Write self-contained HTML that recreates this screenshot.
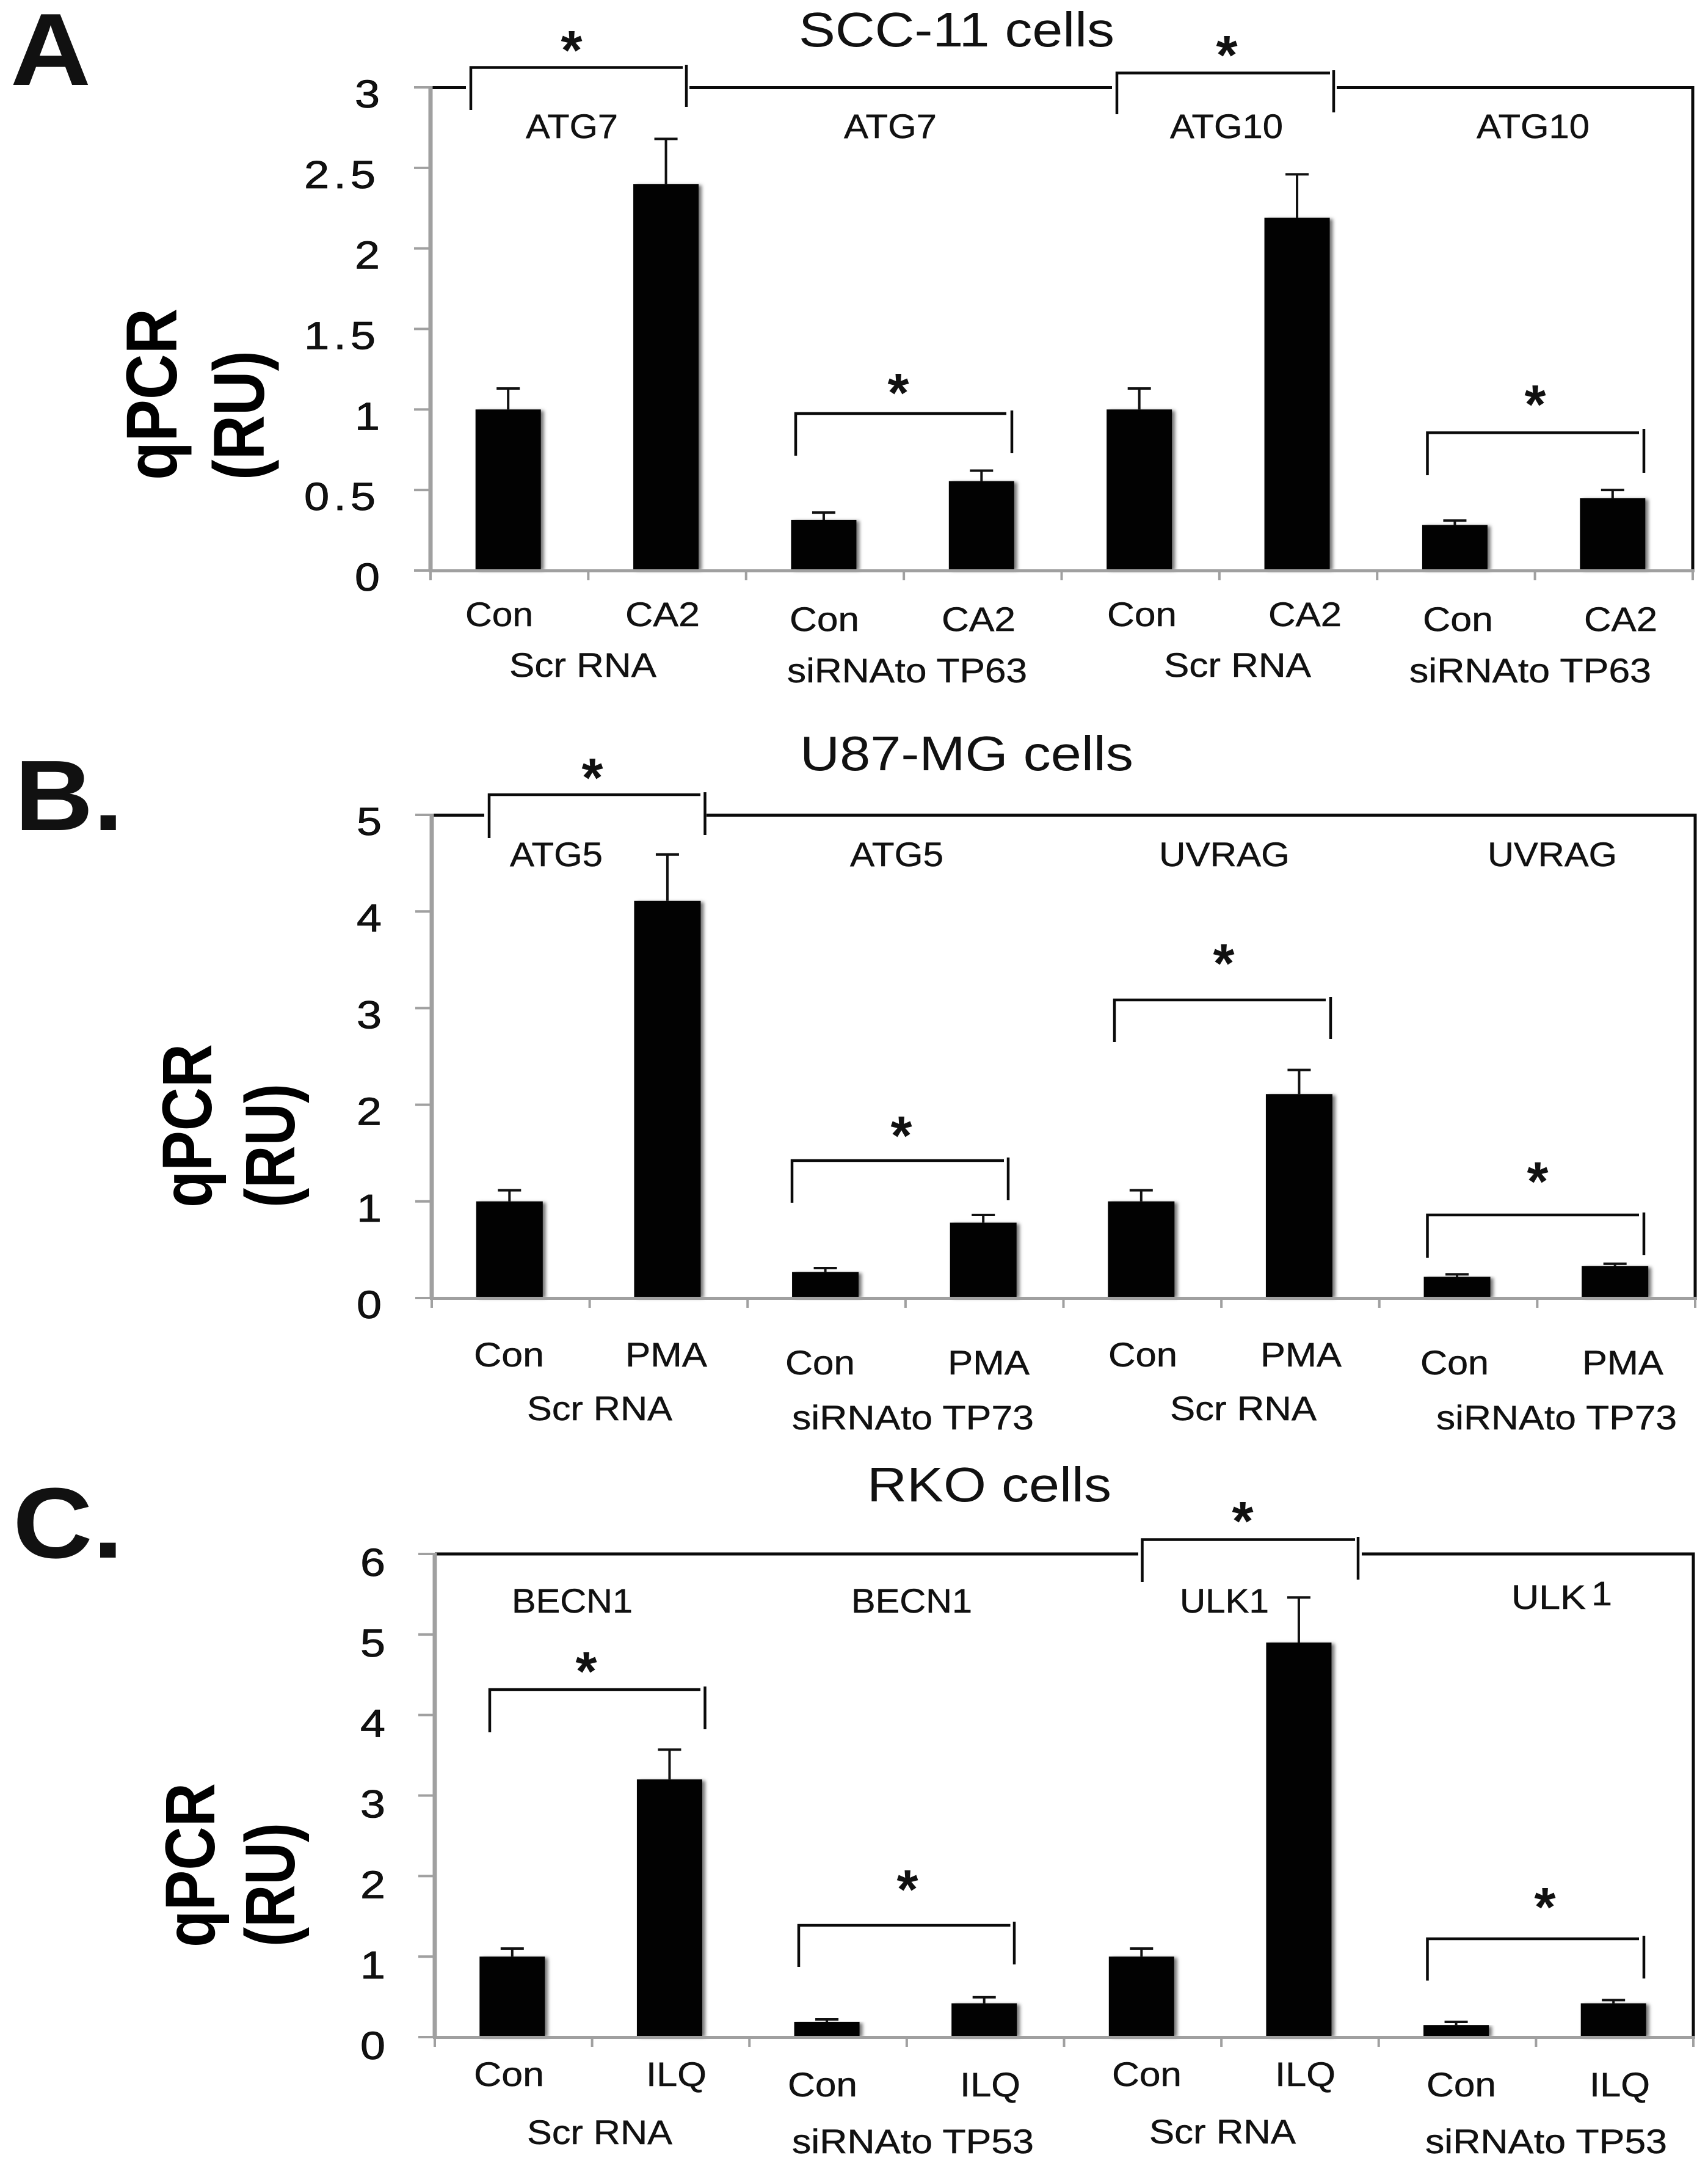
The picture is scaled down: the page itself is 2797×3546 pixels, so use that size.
<!DOCTYPE html>
<html lang="en">
<head>
<meta charset="utf-8">
<title>qPCR autophagy gene expression panels</title>
<style>
html,body{margin:0;padding:0;background:#fff;}
svg{display:block;}
text{font-family:"Liberation Sans",Arial,sans-serif;fill:#111;}
.letter{font-weight:700;fill:#111;}
.title{font-size:80px;}
.gene,.xl{font-size:56px;stroke:#111;stroke-width:.5;}
.axt{font-weight:700;font-size:118px;fill:#000;}
.star{font-weight:700;font-size:90px;text-anchor:middle;}
.br{fill:none;stroke:#0a0a0a;stroke-width:4.5;}
.frame{fill:none;stroke:#0a0a0a;stroke-width:5;}
</style>
</head>
<body>
<svg id="figure" xmlns="http://www.w3.org/2000/svg" width="2797" height="3546" viewBox="0 0 2797 3546">
<defs><filter id="soft" x="-30%" y="-10%" width="160%" height="120%"><feGaussianBlur stdDeviation="3"/></filter></defs>
<rect width="2797" height="3546" fill="#fff"/>

<!-- Panel A -->
<g>
<text class="letter" x="17" y="139" font-size="168" textLength="132" lengthAdjust="spacingAndGlyphs">A</text>
<text class="title" x="1308" y="76" textLength="517" lengthAdjust="spacingAndGlyphs">SCC-11 cells</text>
<path class="frame" d="M705 143.5H763M1129 143.5H1821M2189 143.5H2772V934"/>
<text class="axt" transform="translate(289,786) rotate(-90)" textLength="281" lengthAdjust="spacingAndGlyphs">qPCR</text>
<text class="axt" transform="translate(432,786) rotate(-90)" textLength="212" lengthAdjust="spacingAndGlyphs">(RU)</text>
<path class="br" d="M771 180V110.500H1118M1124 106V175"/>
<text class="star" x="936" y="113">*</text>
<path class="br" d="M1829 187V119.500H2178M2184 115V184"/>
<text class="star" x="2009" y="121">*</text>
<path class="br" d="M1303 746V677H1648M1657 672V742"/>
<text class="star" x="1471" y="674">*</text>
<path class="br" d="M2337.500 778V708.500H2684M2692 702V774"/>
<text class="star" x="2514" y="693">*</text>
<text class="gene" x="861" y="226" textLength="151" lengthAdjust="spacingAndGlyphs">ATG7</text>
<text class="gene" x="1382" y="226" textLength="152" lengthAdjust="spacingAndGlyphs">ATG7</text>
<text class="gene" x="1916" y="226" textLength="185" lengthAdjust="spacingAndGlyphs">ATG10</text>
<text class="gene" x="2418" y="226" textLength="185" lengthAdjust="spacingAndGlyphs">ATG10</text>
<text class="xl" x="762" y="1025" textLength="111" lengthAdjust="spacingAndGlyphs">Con</text>
<text class="xl" x="1024" y="1025" textLength="122" lengthAdjust="spacingAndGlyphs">CA2</text>
<text class="xl" x="834" y="1108" textLength="241" lengthAdjust="spacingAndGlyphs">Scr RNA</text>
<text class="xl" x="1293" y="1033" textLength="114" lengthAdjust="spacingAndGlyphs">Con</text>
<text class="xl" x="1542" y="1033" textLength="121" lengthAdjust="spacingAndGlyphs">CA2</text>
<text class="xl" x="1289" y="1117" textLength="393" lengthAdjust="spacingAndGlyphs">siRNA<tspan dx="-12"> to TP63</tspan></text>
<text class="xl" x="1813" y="1025" textLength="114" lengthAdjust="spacingAndGlyphs">Con</text>
<text class="xl" x="2077" y="1025" textLength="120" lengthAdjust="spacingAndGlyphs">CA2</text>
<text class="xl" x="1906" y="1108" textLength="241" lengthAdjust="spacingAndGlyphs">Scr RNA</text>
<text class="xl" x="2330" y="1033" textLength="115" lengthAdjust="spacingAndGlyphs">Con</text>
<text class="xl" x="2594" y="1033" textLength="120" lengthAdjust="spacingAndGlyphs">CA2</text>
<text class="xl" x="2308" y="1117" textLength="396" lengthAdjust="spacingAndGlyphs">siRNA<tspan dx="-12"> to TP63</tspan></text>
</g>

<!-- Panel B -->
<g>
<text class="letter" x="24" y="1359" font-size="164" textLength="178" lengthAdjust="spacingAndGlyphs">B.</text>
<text class="title" x="1310" y="1261" textLength="546" lengthAdjust="spacingAndGlyphs">U87-MG cells</text>
<path class="frame" d="M707 1334.500H793M1157 1334.500H2776V2125"/>
<text class="axt" style="font-size:115px" transform="translate(346,1977) rotate(-90)" textLength="268" lengthAdjust="spacingAndGlyphs">qPCR</text>
<text class="axt" style="font-size:115px" transform="translate(482,1977) rotate(-90)" textLength="203" lengthAdjust="spacingAndGlyphs">(RU)</text>
<path class="br" d="M801 1372V1301H1147M1154.500 1297V1367"/>
<text class="star" x="970" y="1304">*</text>
<path class="br" d="M1297 1969V1900H1644M1651 1895V1965"/>
<text class="star" x="1476" y="1890">*</text>
<path class="br" d="M1825 1706V1637H2171M2179 1632V1701"/>
<text class="star" x="2004" y="1608">*</text>
<path class="br" d="M2337.500 2059V1989H2684M2692 1985V2055"/>
<text class="star" x="2518" y="1965">*</text>
<text class="gene" x="835" y="1418" textLength="152" lengthAdjust="spacingAndGlyphs">ATG5</text>
<text class="gene" x="1392" y="1418" textLength="153" lengthAdjust="spacingAndGlyphs">ATG5</text>
<text class="gene" x="1898" y="1418" textLength="214" lengthAdjust="spacingAndGlyphs">UVRAG</text>
<text class="gene" x="2436" y="1418" textLength="212" lengthAdjust="spacingAndGlyphs">UVRAG</text>
<text class="xl" x="776" y="2237" textLength="115" lengthAdjust="spacingAndGlyphs">Con</text>
<text class="xl" x="1024" y="2237" textLength="134" lengthAdjust="spacingAndGlyphs">PMA</text>
<text class="xl" x="863" y="2325" textLength="238" lengthAdjust="spacingAndGlyphs">Scr RNA</text>
<text class="xl" x="1286" y="2250" textLength="114" lengthAdjust="spacingAndGlyphs">Con</text>
<text class="xl" x="1552" y="2250" textLength="134" lengthAdjust="spacingAndGlyphs">PMA</text>
<text class="xl" x="1297" y="2340" textLength="396" lengthAdjust="spacingAndGlyphs">siRNA<tspan dx="-12"> to TP73</tspan></text>
<text class="xl" x="1815" y="2237" textLength="113" lengthAdjust="spacingAndGlyphs">Con</text>
<text class="xl" x="2064" y="2237" textLength="133" lengthAdjust="spacingAndGlyphs">PMA</text>
<text class="xl" x="1916" y="2325" textLength="240" lengthAdjust="spacingAndGlyphs">Scr RNA</text>
<text class="xl" x="2326" y="2250" textLength="112" lengthAdjust="spacingAndGlyphs">Con</text>
<text class="xl" x="2591" y="2250" textLength="133" lengthAdjust="spacingAndGlyphs">PMA</text>
<text class="xl" x="2352" y="2340" textLength="394" lengthAdjust="spacingAndGlyphs">siRNA<tspan dx="-12"> to TP73</tspan></text>
</g>

<!-- Panel C -->
<g>
<text class="letter" x="21" y="2550" font-size="164" textLength="181" lengthAdjust="spacingAndGlyphs">C.</text>
<text class="title" x="1420" y="2458" textLength="400" lengthAdjust="spacingAndGlyphs">RKO cells</text>
<path class="frame" d="M712 2544H1864M2230 2544H2773V3335"/>
<text class="axt" style="font-size:115px" transform="translate(351,3188) rotate(-90)" textLength="269" lengthAdjust="spacingAndGlyphs">qPCR</text>
<text class="axt" style="font-size:115px" transform="translate(482,3187) rotate(-90)" textLength="203" lengthAdjust="spacingAndGlyphs">(RU)</text>
<path class="br" d="M1870.500 2590V2520.500H2219M2224 2516V2586"/>
<text class="star" x="2035" y="2521">*</text>
<path class="br" d="M802 2836V2766H1147M1154.500 2761V2831"/>
<text class="star" x="960" y="2767">*</text>
<path class="br" d="M1308 3220V3152H1654.500M1661 3146V3216"/>
<text class="star" x="1486" y="3124">*</text>
<path class="br" d="M2337.500 3242.500V3174H2684M2692 3169V3239"/>
<text class="star" x="2530" y="3153">*</text>
<text class="gene" x="838" y="2640" textLength="198" lengthAdjust="spacingAndGlyphs">BECN1</text>
<text class="gene" x="1394" y="2640" textLength="198" lengthAdjust="spacingAndGlyphs">BECN1</text>
<text class="gene" x="1932" y="2640" textLength="146" lengthAdjust="spacingAndGlyphs">ULK1</text>
<text class="gene" x="2475" y="2634" textLength="122" lengthAdjust="spacingAndGlyphs">ULK</text>
<text class="gene" x="2606" y="2628" textLength="34" lengthAdjust="spacingAndGlyphs">1</text>
<text class="xl" x="776" y="3415" textLength="115" lengthAdjust="spacingAndGlyphs">Con</text>
<text class="xl" x="1058" y="3415" textLength="99" lengthAdjust="spacingAndGlyphs">ILQ</text>
<text class="xl" x="863" y="3510" textLength="238" lengthAdjust="spacingAndGlyphs">Scr RNA</text>
<text class="xl" x="1290" y="3432" textLength="114" lengthAdjust="spacingAndGlyphs">Con</text>
<text class="xl" x="1572" y="3432" textLength="99" lengthAdjust="spacingAndGlyphs">ILQ</text>
<text class="xl" x="1297" y="3525" textLength="396" lengthAdjust="spacingAndGlyphs">siRNA<tspan dx="-12"> to TP53</tspan></text>
<text class="xl" x="1821" y="3415" textLength="114" lengthAdjust="spacingAndGlyphs">Con</text>
<text class="xl" x="2088" y="3415" textLength="99" lengthAdjust="spacingAndGlyphs">ILQ</text>
<text class="xl" x="1882" y="3509" textLength="240" lengthAdjust="spacingAndGlyphs">Scr RNA</text>
<text class="xl" x="2336" y="3432" textLength="114" lengthAdjust="spacingAndGlyphs">Con</text>
<text class="xl" x="2603" y="3432" textLength="99" lengthAdjust="spacingAndGlyphs">ILQ</text>
<text class="xl" x="2334" y="3525" textLength="396" lengthAdjust="spacingAndGlyphs">siRNA<tspan dx="-12"> to TP53</tspan></text>
</g>

<g id="plots"></g>
</svg>

<script>
// Panel A: SCC-11 cells
const categoriesA = ["ATG7 Scr Con", "ATG7 Scr CA2", "ATG7 si Con", "ATG7 si CA2", "ATG10 Scr Con", "ATG10 Scr CA2", "ATG10 si Con", "ATG10 si CA2"];
const valuesA = [1, 2.4, 0.315, 0.555, 1, 2.19, 0.283, 0.45];
const errorsA = [0.13, 0.28, 0.045, 0.065, 0.13, 0.27, 0.027, 0.05];
const tickLabelsA = ["0", "0.5", "1", "1.5", "2", "2.5", "3"];

// Panel B: U87-MG cells
const categoriesB = ["ATG5 Scr Con", "ATG5 Scr PMA", "ATG5 si Con", "ATG5 si PMA", "UVRAG Scr Con", "UVRAG Scr PMA", "UVRAG si Con", "UVRAG si PMA"];
const valuesB = [1, 4.11, 0.27, 0.78, 1, 2.11, 0.22, 0.33];
const errorsB = [0.115, 0.48, 0.04, 0.08, 0.115, 0.25, 0.025, 0.025];
const tickLabelsB = ["0", "1", "2", "3", "4", "5"];

// Panel C: RKO cells
const categoriesC = ["BECN1 Scr Con", "BECN1 Scr ILQ", "BECN1 si Con", "BECN1 si ILQ", "ULK1 Scr Con", "ULK1 Scr ILQ", "ULK1 si Con", "ULK1 si ILQ"];
const valuesC = [1, 3.2, 0.19, 0.42, 1, 4.9, 0.15, 0.42];
const errorsC = [0.1, 0.37, 0.03, 0.075, 0.1, 0.56, 0.04, 0.04];
const tickLabelsC = ["0", "1", "2", "3", "4", "5", "6"];

const NS = "http://www.w3.org/2000/svg";
const plots = document.getElementById("plots");
const AXIS_GREY = "#a0a0a0";

function make(parent, tag, attrs) {
  const el = document.createElementNS(NS, tag);
  for (const k in attrs) el.setAttribute(k, attrs[k]);
  parent.appendChild(el);
  return el;
}

function drawPanel(id, categories, values, errors, tickLabels, box) {
  const ticks = tickLabels.map(Number);
  const yMax = Math.max.apply(null, ticks);
  const band = (box.right - box.left) / categories.length;
  const yScale = function (v) { return box.base - (v / yMax) * (box.base - box.top); };
  const xScale = function (i) { return box.left + (i + 0.5) * band - 2; };

  const g = make(plots, "g", {});
  
  

  tickLabels.forEach(function (label, i) {
    const y = yScale(ticks[i]);
    const tick = make(g, "rect", { x: box.left - 27, y: y - 2, width: 27, height: 4, fill: AXIS_GREY });
    
    
    const wide = label.length > 1;
    const len = wide ? 124 : 41;
    const text = make(g, "text", {
      x: box.labelRight - len, y: y + box.labelDy, "font-size": 64,
      textLength: len, lengthAdjust: "spacingAndGlyphs", stroke: "#000", "stroke-width": 0.8,
      "letter-spacing": wide ? 6 : 0
    });
    text.textContent = label;
    
    
  });

  categories.forEach(function (name, i) {
    const cx = xScale(i);
    const shadow = make(g, "rect", {
      x: cx - box.barWidth / 2 + 5, y: yScale(values[i]) + 2, width: box.barWidth,
      height: box.base - yScale(values[i]) - 2, fill: "#777", filter: "url(#soft)"
    });
    
    
    const bar = make(g, "rect", {
      x: cx - box.barWidth / 2, y: yScale(values[i]), width: box.barWidth,
      height: box.base - yScale(values[i]), fill: "#020202"
    });
    
    
    const title = make(bar, "title", {});
    title.textContent = name;
    const top = yScale(values[i] + errors[i]);
    const err = make(g, "path", {
      d: "M" + cx + " " + yScale(values[i]) + "V" + top + "M" + (cx - 19) + " " + top + "H" + (cx + 19),
      fill: "none", stroke: "#111", "stroke-width": 4
    });
    
    
  });

  const axisY = make(g, "rect", { x: box.left - 3.5, y: box.top - 2, width: 7, height: box.base - box.top + 4, fill: AXIS_GREY });
  
  
  const axisX = make(g, "rect", { x: box.left - 3, y: box.base - 2, width: box.right - box.left + 6, height: 5, fill: AXIS_GREY });
  
  

  for (let i = 0; i <= categories.length; i++) {
    const xt = make(g, "rect", { x: box.left + i * band - 2, y: box.base, width: 4, height: 16, fill: AXIS_GREY });
    
    
  }
}

drawPanel("a", categoriesA, valuesA, errorsA, tickLabelsA, { left: 705, right: 2772, top: 143, base: 934, barWidth: 107, labelRight: 622, labelDy: 33 });
drawPanel("b", categoriesB, valuesB, errorsB, tickLabelsB, { left: 707, right: 2776, top: 1334, base: 2125, barWidth: 109, labelRight: 625, labelDy: 33 });
drawPanel("c", categoriesC, valuesC, errorsC, tickLabelsC, { left: 712, right: 2773, top: 2544, base: 3335, barWidth: 107, labelRight: 631, labelDy: 36 });
</script>
</body>
</html>
